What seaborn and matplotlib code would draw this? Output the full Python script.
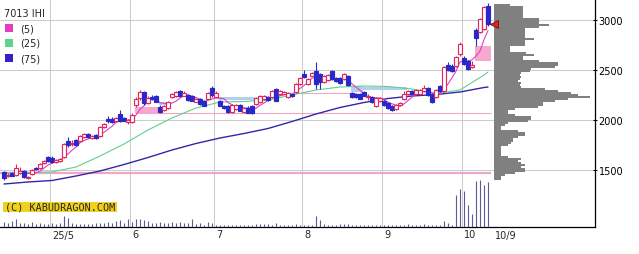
import numpy as np
import pandas as pd
import matplotlib
matplotlib.use("Agg")
import matplotlib.pyplot as plt
from matplotlib.patches import Rectangle
from matplotlib.transforms import blended_transform_factory
import seaborn as sns

sns.set_style("white")
plt.rcParams['font.family'] = ['DejaVu Sans']

# ---------------- data ----------------
ticker_title = "7013 IHI"
ma_labels = ["(5)", "(25)", "(75)"]
month_labels = ["25/5", "6", "7", "8", "9", "10"]
month_first_idx = [12, 32, 53, 75, 95, 115]
last_date_label = "10/9"
price_ticks = [1500, 2000, 2500, 3000]
watermark = "(C) KABUDRAGON.COM"

opens = [1480, 1440, 1475, 1450, 1470, 1490, 1420, 1460, 1525, 1520,
         1575, 1630, 1625, 1580, 1590, 1630, 1790, 1760, 1800, 1790,
         1830, 1860, 1820, 1850, 1840, 1930, 2010, 2010, 1990, 2060,
         2020, 1980, 1985, 2150, 2220, 2280, 2170, 2235, 2240, 2130,
         2100, 2120, 2230, 2240, 2290, 2245, 2250, 2240, 2185, 2210,
         2190, 2210, 2320, 2230, 2190, 2140, 2140, 2080, 2110, 2150,
         2080, 2125, 2140, 2160, 2180, 2210, 2230, 2230, 2310, 2260,
         2265, 2230, 2260, 2280, 2360, 2460, 2360, 2445, 2490, 2460,
         2380, 2400, 2490, 2420, 2420, 2410, 2440, 2275, 2265, 2260,
         2280, 2230, 2230, 2140, 2190, 2190, 2170, 2140, 2110, 2150,
         2210, 2260, 2290, 2260, 2265, 2290, 2320, 2260, 2230, 2340,
         2290, 2550, 2540, 2540, 2660, 2620, 2590, 2530, 2900, 2880,
         2910, 3140]
highs = [1490, 1470, 1480, 1560, 1530, 1500, 1440, 1510, 1535, 1570,
         1600, 1640, 1640, 1610, 1620, 1770, 1830, 1800, 1810, 1850,
         1870, 1870, 1850, 1860, 1940, 1970, 2040, 2030, 2030, 2100,
         2030, 2010, 2070, 2230, 2300, 2290, 2240, 2250, 2250, 2155,
         2150, 2190, 2270, 2290, 2300, 2290, 2260, 2250, 2220, 2220,
         2200, 2280, 2340, 2290, 2205, 2150, 2150, 2160, 2160, 2160,
         2130, 2140, 2150, 2235, 2250, 2250, 2240, 2300, 2320, 2300,
         2290, 2280, 2270, 2370, 2430, 2500, 2420, 2480, 2580, 2470,
         2450, 2460, 2500, 2430, 2430, 2470, 2450, 2285, 2275, 2270,
         2290, 2260, 2240, 2230, 2230, 2200, 2180, 2150, 2160, 2180,
         2290, 2300, 2300, 2310, 2310, 2350, 2330, 2270, 2310, 2350,
         2540, 2580, 2560, 2640, 2780, 2640, 2600, 2590, 2920, 3020,
         3140, 3170]
lows = [1400, 1430, 1440, 1440, 1460, 1420, 1410, 1450, 1505, 1515,
        1565, 1580, 1575, 1575, 1585, 1620, 1730, 1740, 1740, 1780,
        1820, 1820, 1810, 1810, 1830, 1920, 1970, 1975, 1980, 1980,
        1990, 1965, 1975, 2130, 2200, 2150, 2160, 2200, 2180, 2070,
        2090, 2110, 2220, 2230, 2230, 2240, 2190, 2190, 2180, 2155,
        2140, 2200, 2230, 2225, 2140, 2110, 2070, 2070, 2100, 2090,
        2070, 2070, 2065, 2150, 2170, 2200, 2190, 2220, 2190, 2250,
        2260, 2220, 2230, 2270, 2350, 2420, 2350, 2440, 2310, 2310,
        2370, 2390, 2400, 2380, 2360, 2400, 2340, 2225, 2225, 2210,
        2240, 2200, 2175, 2130, 2180, 2140, 2110, 2090, 2100, 2140,
        2200, 2250, 2260, 2255, 2255, 2280, 2240, 2170, 2220, 2280,
        2280, 2490, 2480, 2530, 2640, 2550, 2500, 2520, 2745, 2870,
        2900, 2940]
closes = [1420, 1455, 1445, 1520, 1490, 1430, 1435, 1500, 1510, 1560,
          1590, 1590, 1585, 1600, 1610, 1760, 1750, 1770, 1750, 1840,
          1860, 1830, 1840, 1820, 1930, 1960, 1990, 1985, 2020, 1990,
          1995, 2000, 2050, 2210, 2280, 2170, 2220, 2210, 2185, 2080,
          2140, 2180, 2260, 2280, 2240, 2270, 2200, 2195, 2215, 2160,
          2145, 2275, 2250, 2275, 2145, 2120, 2080, 2150, 2150, 2095,
          2125, 2075, 2070, 2225, 2240, 2240, 2200, 2290, 2195, 2290,
          2280, 2270, 2240, 2360, 2425, 2430, 2410, 2475, 2360, 2380,
          2440, 2450, 2410, 2390, 2370, 2460, 2350, 2235, 2230, 2215,
          2245, 2240, 2180, 2220, 2220, 2150, 2120, 2100, 2150, 2175,
          2260, 2290, 2265, 2300, 2300, 2320, 2250, 2180, 2300, 2290,
          2530, 2500, 2490, 2630, 2760, 2560, 2510, 2550, 2820, 3010,
          3130, 2960]
volume = [5, 4, 6, 8, 4, 4, 3, 5, 3, 4,
          3, 3, 4, 3, 4, 11, 9, 4, 3, 3,
          3, 3, 3, 4, 4, 4, 5, 4, 6, 7,
          4, 8, 5, 8, 8, 7, 6, 4, 4, 5,
          4, 4, 5, 4, 5, 4, 4, 8, 3, 4,
          2, 5, 4, 2, 2, 2, 2, 2, 2, 2,
          2, 2, 2, 3, 3, 3, 3, 2, 4, 2,
          2, 2, 2, 3, 2, 2, 2, 2, 11, 7,
          3, 2, 2, 2, 3, 3, 3, 2, 2, 2,
          2, 2, 2, 2, 2, 2, 2, 2, 2, 2,
          2, 3, 2, 2, 2, 3, 2, 2, 2, 2,
          6, 4, 2, 32, 38, 36, 22, 13, 46, 47,
          42, 45]

ma_idx = [0, 6, 12, 18, 24, 30, 36, 42, 48, 54, 60, 66, 72, 78, 84, 90,
          96, 102, 108, 114, 120, 121]
ma25 = [1475, 1475, 1480, 1530, 1640, 1760, 1900, 2020, 2120, 2180, 2185,
        2200, 2250, 2300, 2330, 2340, 2335, 2310, 2265, 2300, 2450, 2480]
ma75 = [1360, 1380, 1395, 1440, 1490, 1555, 1625, 1700, 1765, 1820, 1865,
        1915, 1985, 2060, 2125, 2175, 2215, 2240, 2255, 2280, 2325, 2330]

# price-by-volume profile, 20-yen bins from 3160 downwards
prof_values = [16, 29, 29, 29, 29, 29, 29, 45, 45, 45, 55, 45, 31, 31, 31,
               31, 31, 40, 31, 31, 31, 16, 16, 16, 32, 40, 29, 29, 45, 64,
               64, 61, 37, 36, 27, 26, 27, 26, 24, 27, 26, 27, 51, 64, 77,
               84, 96, 74, 61, 49, 49, 44, 21, 14, 14, 21, 37, 37, 34, 14,
               11, 7, 7, 24, 31, 31, 24, 19, 19, 17, 14, 7, 7, 7, 7,
               7, 14, 27, 24, 27, 31, 27, 31, 31, 21, 11, 7, 7]
prof_top = 3160
prof_bin = 20

# price gaps (windows)
gap_start = [32.75, 38.75, 53.5, 86.75, 86.75, 117.75]
gap_end = [38.75, 41.25, 62.75, 89.75, 100.75, 121.75]
gap_lo = [2070, 2155, 2203, 2285, 2305, 2590]
gap_hi = [2130, 2183, 2227, 2340, 2335, 2740]
gap_up = [True, False, False, False, False, True]

# support / resistance lines
support_price = [1470, 2070, 2270]
support_start = [-1, 32.75, 72.25]
support_end = [121.75, 121.75, 87.75]

# ---------------- style ----------------
UP = '#e0285f'
DOWN = '#2a28c8'
C_MA5 = '#e040c0'
C_MA25 = '#5fd18a'
C_MA75 = '#3525a8'
GRID = '#cccccc'
PINK_BOX = '#f6a8cf'
BLUE_BOX = '#b4cdf2'
SUPPORT = '#f0a6cb'
VOL = '#5b5b96'
PROF = '#808080'
WM = '#f0d21e'

W, H = 639, 255
fig = plt.figure(figsize=(W / 100, H / 100), dpi=100)
fig.patch.set_facecolor('white')


def fx(px):
    return px / W


def fy(py):
    return 1 - py / H


AX_R, AX_B = 595, 228
rect = [0, fy(AX_B), AX_R / W, AX_B / H]
ax = fig.add_axes(rect)
n = len(closes)
xi = np.arange(n)
ax.set_xlim(-1, -1 + AX_R / 4)
ax.set_ylim(930, 3210)

# grid
for m in month_first_idx:
    ax.axvline(m - 0.5, color=GRID, lw=0.75, zorder=0)
ax.set_xticks([])
ax.set_yticks(price_ticks)
ax.yaxis.tick_right()
ax.grid(axis='y', color=GRID, lw=0.75)
ax.set_axisbelow(True)
ax.tick_params(axis='y', direction='inout', length=3, width=0.75, pad=1,
               labelsize=7, colors='black')
for s in ['left', 'top']:
    ax.spines[s].set_visible(False)
for s in ['right', 'bottom']:
    ax.spines[s].set_color('black')
    ax.spines[s].set_linewidth(0.9)

trans = blended_transform_factory(ax.transData, ax.transAxes)
for lab, m in zip(month_labels, month_first_idx):
    ax.text(m, -7.5 / AX_B, lab, transform=trans, ha='left', va='center',
            fontsize=7)
ax.text(n + 0.75, -7.5 / AX_B, last_date_label, transform=trans, ha='left',
        va='center', fontsize=7)

# gap boxes
for s, e, lo, hi, up in zip(gap_start, gap_end, gap_lo, gap_hi, gap_up):
    ax.add_patch(Rectangle((s, lo), e - s, hi - lo,
                           facecolor=PINK_BOX if up else BLUE_BOX,
                           edgecolor='none', zorder=1))

# support lines
for k, (p, s, e) in enumerate(zip(support_price, support_start, support_end)):
    ax.hlines(p, s, e, color=SUPPORT, lw=1.6 if k == 0 else 0.8, zorder=1)

# moving averages
df = pd.DataFrame({'idx': xi, 'close': closes})
df['ma5'] = df['close'].rolling(5, min_periods=1).mean()
mdf = pd.DataFrame({'idx': ma_idx, 'ma25': ma25, 'ma75': ma75})
sns.lineplot(data=mdf, x='idx', y='ma75', ax=ax, color=C_MA75, linewidth=1.0,
             legend=False, zorder=2.5)
sns.lineplot(data=mdf, x='idx', y='ma25', ax=ax, color=C_MA25, linewidth=0.8,
             legend=False, zorder=2.5)
sns.lineplot(data=df, x='idx', y='ma5', ax=ax, color=C_MA5, linewidth=0.8,
             legend=False, zorder=2.6)
ax.set_xlabel('')
ax.set_ylabel('')

# candles
o = np.array(opens)
c = np.array(closes)
h = np.array(highs)
lo_ = np.array(lows)
up = c >= o
col = np.where(up, UP, DOWN)
ax.vlines(xi, lo_, h, colors=col, lw=0.8, zorder=3)
body_bottom = np.minimum(o, c)
body_h = np.maximum(np.abs(c - o), 10)
ax.bar(xi, body_h, bottom=body_bottom, width=0.78,
       color=np.where(up, 'white', DOWN), edgecolor=col, linewidth=0.85,
       zorder=4)

# volume
axv = fig.add_axes(rect, sharex=ax)
axv.patch.set_visible(False)
axv.vlines(xi, 0, volume, colors=VOL, lw=0.8)
axv.set_ylim(0, max(volume) * AX_B / 47)
axv.axis('off')

# price profile
axp = fig.add_axes([fx(494), fy(AX_B), (AX_R - 494) / W, AX_B / H])
axp.patch.set_visible(False)
centers = [prof_top - prof_bin * (k + 0.5) for k in range(len(prof_values))]
axp.barh(centers, prof_values, height=prof_bin, color=PROF, linewidth=0)
axp.set_ylim(930, 3210)
axp.set_xlim(0, max(prof_values) * (AX_R - 494) / 96)
axp.axis('off')

# last price marker
axp.plot([n + 0.5], [closes[-1]], marker='<', ms=6, mfc='#e8201c',
         mec='#701010', mew=0.6, transform=ax.transData, clip_on=False,
         zorder=6)

# legend / title
fig.text(fx(4), fy(14), ticker_title, fontsize=7, ha='left', va='center')
for k, (lab, colr) in enumerate(zip(ma_labels, ['#e43dc3', '#5ad68c', '#3320c8'])):
    yc = 29 + 15 * k
    fig.patches.append(Rectangle((fx(5), fy(yc + 4)), 8 / W, 8 / H,
                                 transform=fig.transFigure, facecolor=colr,
                                 edgecolor='none'))
    fig.text(fx(20), fy(yc), lab, fontsize=7, ha='left', va='center')

# watermark
fig.patches.append(Rectangle((fx(3), fy(213)), 114 / W, 10 / H,
                             transform=fig.transFigure, facecolor=WM,
                             edgecolor='none'))
fig.text(fx(60), fy(208), watermark, fontsize=7.3, family='DejaVu Sans Mono',
         ha='center', va='center')

fig.savefig('out.png', dpi=100)
